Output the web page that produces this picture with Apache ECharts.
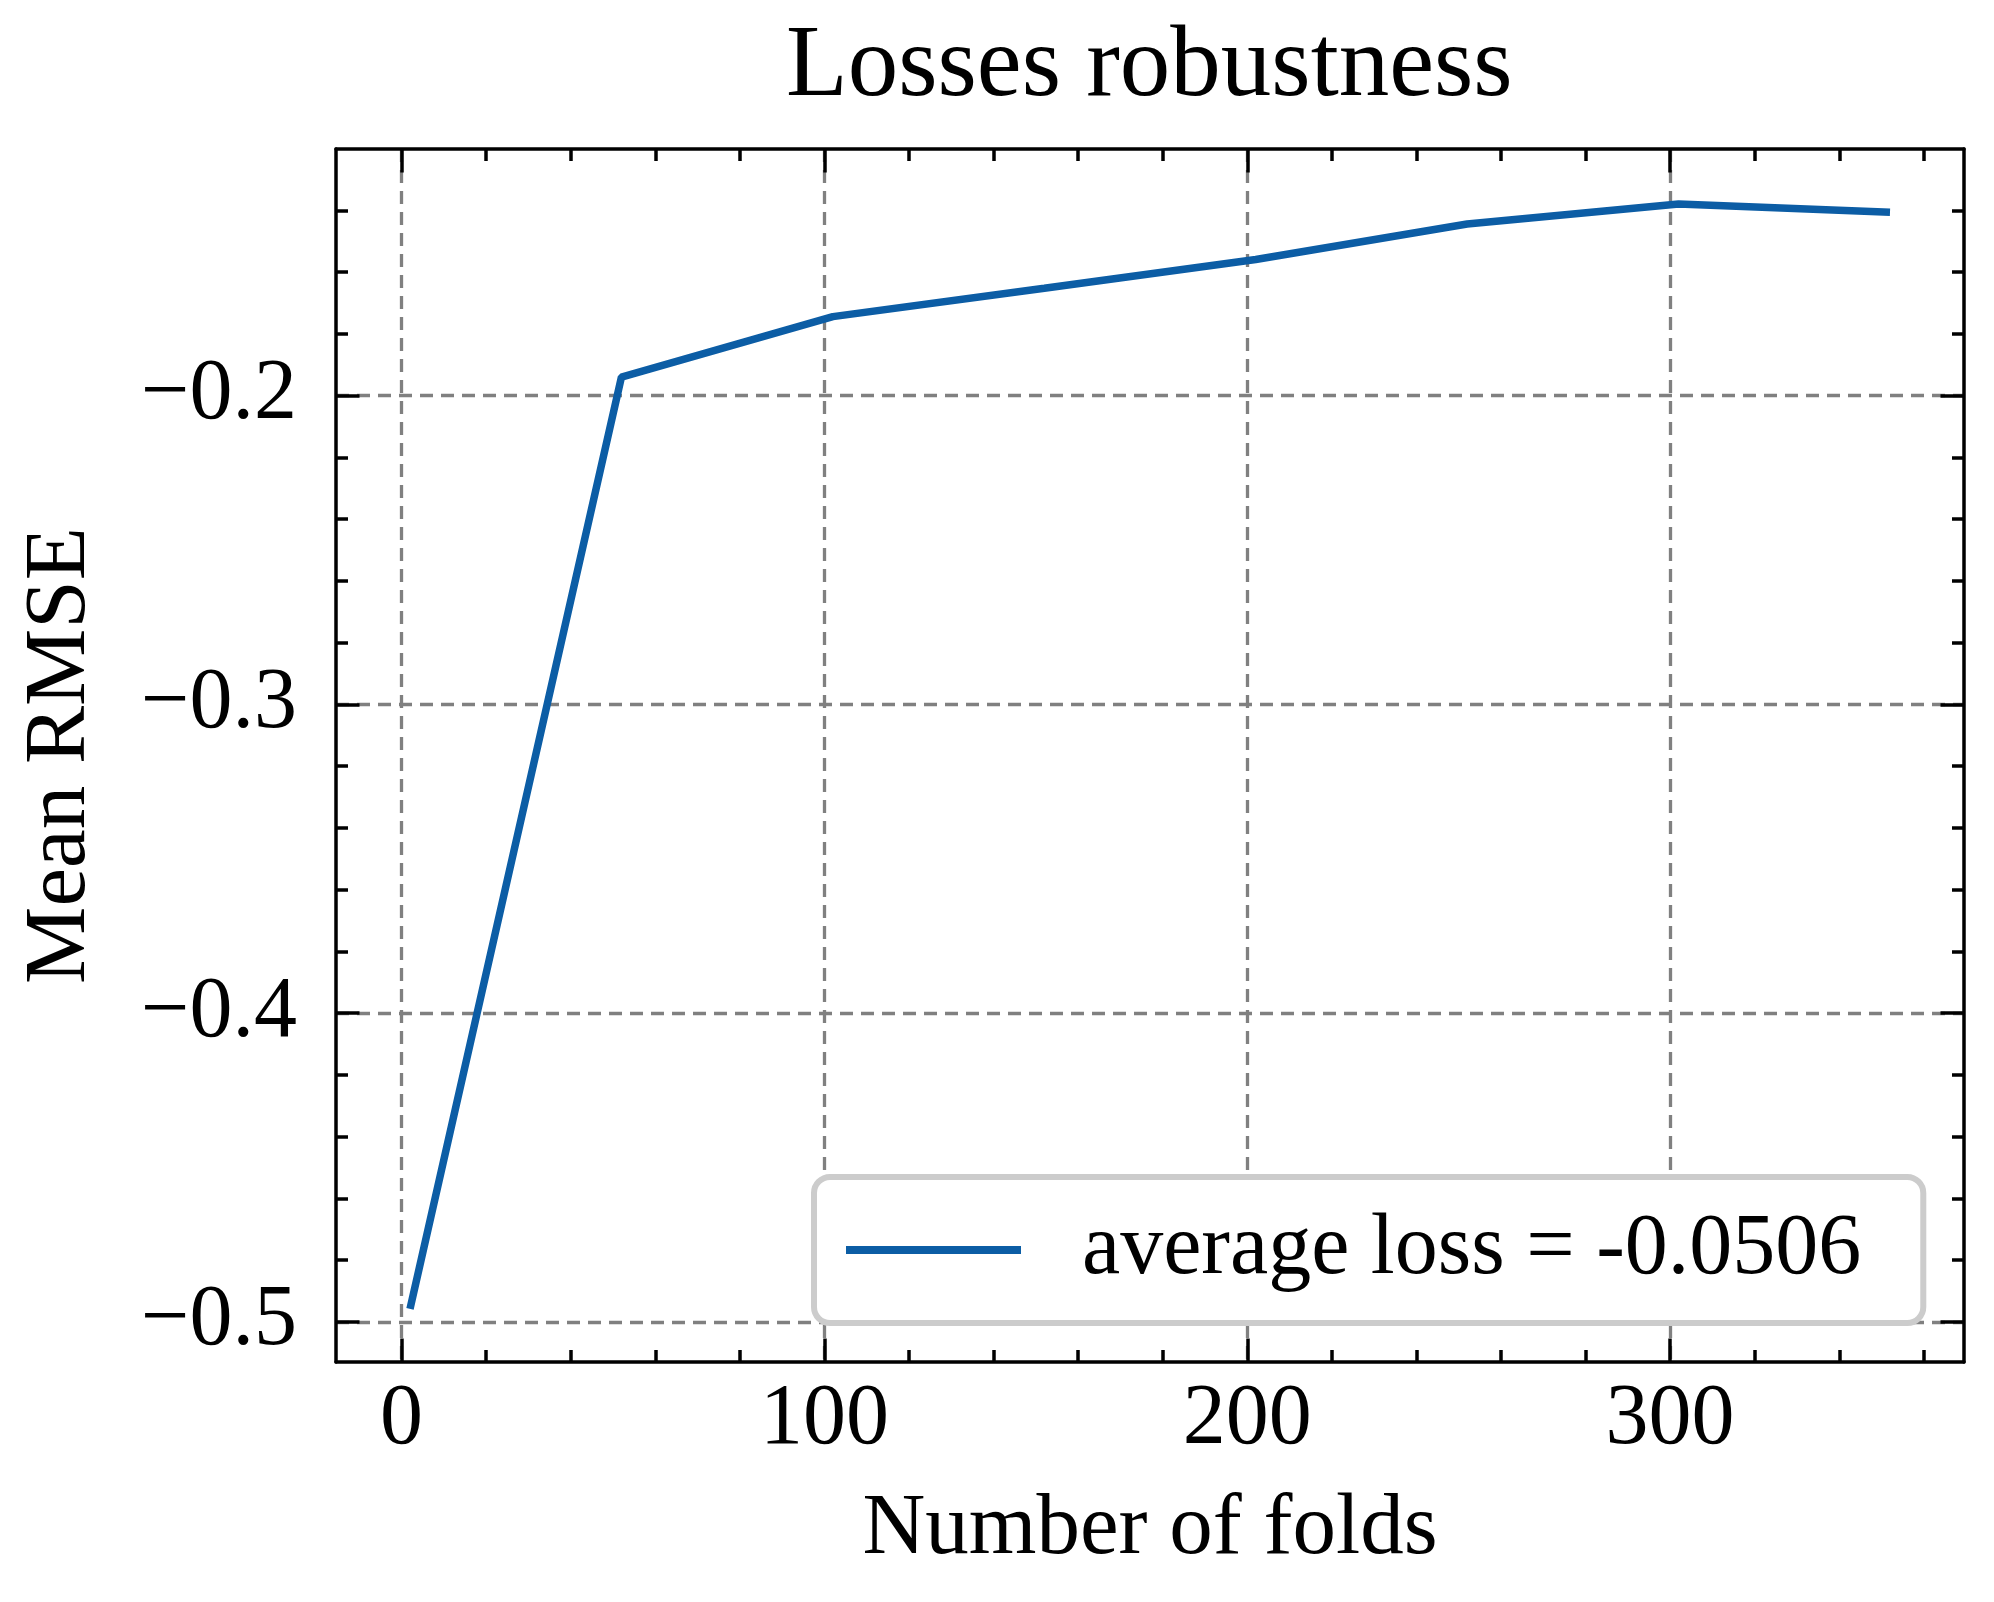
<!DOCTYPE html>
<html lang="en">
<head>
    <meta charset="UTF-8">
    <title>Losses robustness</title>
    <script src="https://cdn.jsdelivr.net/npm/echarts@6/dist/echarts.min.js"></script>
    <style>
        html, body { margin: 0; padding: 0; background: #ffffff; }
        #main { width: 1994px; height: 1602px; }
    </style>
</head>
<body>
<div id="main"></div>
<script type="text/javascript">
    // data
    var folds = [2, 52, 102, 152, 202, 252, 302, 352];
    var meanRmse = [-0.4958, -0.1940, -0.1744, -0.1652, -0.1559, -0.1444, -0.1379, -0.1406];
    var seriesName = 'average loss = -0.0506';

    // tick positions
    var xMajor = [0, 100, 200, 300];
    var xMinor = [20, 40, 60, 80, 120, 140, 160, 180, 220, 240, 260, 280, 320, 340, 360];
    var yMajor = [-0.5, -0.4, -0.3, -0.2];
    var yMinor = [-0.48, -0.46, -0.44, -0.42, -0.38, -0.36, -0.34, -0.32,
                  -0.28, -0.26, -0.24, -0.22, -0.18, -0.16, -0.14];

    var X_MIN = -15.5, X_MAX = 369.5;
    var Y_MIN = -0.513, Y_MAX = -0.1201;

    var FONT = '"Liberation Serif", "DejaVu Serif", serif';
    var LINE_W = 3.5;

    var chart = echarts.init(document.getElementById('main'));

    // helper for the frame/tick-only axes
    function tickAxis(pos, min, max, values, len, withLine) {
        return {
            type: 'value',
            position: pos,
            min: min,
            max: max,
            axisLine: { show: withLine, onZero: false, lineStyle: { color: '#000', width: LINE_W } },
            axisTick: { show: true, inside: true, length: len, customValues: values,
                        lineStyle: { color: '#000', width: LINE_W } },
            axisLabel: { show: false },
            splitLine: { show: false }
        };
    }

    var option = {
        backgroundColor: '#ffffff',
        animation: false,
        textStyle: { fontFamily: FONT },
        title: {
            text: 'Losses robustness',
            left: 786,
            top: 18,
            padding: 0,
            textStyle: { fontFamily: FONT, fontSize: 101, fontWeight: 'normal', color: '#000' }
        },
        legend: {
            data: [seriesName],
            left: 814,
            top: 1177,
            padding: [30, 62, 30, 32],
            backgroundColor: '#ffffff',
            borderColor: '#cccccc',
            borderWidth: 6,
            borderRadius: 16,
            icon: 'rect',
            itemWidth: 175,
            itemHeight: 8,
            textStyle: { fontFamily: FONT, fontSize: 86, color: '#000', padding: [0, 0, 0, 56] }
        },
        grid: { left: 336, right: 30, top: 149, bottom: 240, containLabel: false },
        xAxis: [
            {
                type: 'value',
                position: 'bottom',
                min: X_MIN,
                max: X_MAX,
                name: 'Number of folds',
                nameLocation: 'middle',
                nameGap: 125,
                nameTextStyle: { fontFamily: FONT, fontSize: 87, color: '#000' },
                axisLine: { show: true, onZero: false, lineStyle: { color: '#000', width: LINE_W } },
                axisTick: { show: true, inside: true, length: 23.5, customValues: xMajor,
                            lineStyle: { color: '#000', width: LINE_W } },
                axisLabel: { show: true, customValues: xMajor, margin: 15,
                             fontFamily: FONT, fontSize: 86, color: '#000' },
                splitLine: { show: true, lineStyle: { color: '#808080', width: 3.3, type: [13, 8] } }
            },
            tickAxis('bottom', X_MIN, X_MAX, xMinor, 12, false),
            tickAxis('top', X_MIN, X_MAX, xMajor, 23.5, true),
            tickAxis('top', X_MIN, X_MAX, xMinor, 12, false)
        ],
        yAxis: [
            {
                type: 'value',
                position: 'left',
                min: Y_MIN,
                max: Y_MAX,
                name: 'Mean RMSE',
                nameLocation: 'middle',
                nameGap: 231,
                nameTextStyle: { fontFamily: FONT, fontSize: 87, color: '#000' },
                axisLine: { show: true, onZero: false, lineStyle: { color: '#000', width: LINE_W } },
                axisTick: { show: true, inside: true, length: 23.5, customValues: yMajor,
                            lineStyle: { color: '#000', width: LINE_W } },
                axisLabel: {
                    show: true, customValues: yMajor, margin: 39,
                    fontFamily: FONT, fontSize: 86, color: '#000',
                    formatter: function (v) {
                        return (v < 0 ? '\u2212' : '') + Math.abs(v).toFixed(1);
                    }
                },
                splitLine: { show: true, lineStyle: { color: '#808080', width: 3.3, type: [13, 8] } }
            },
            tickAxis('left', Y_MIN, Y_MAX, yMinor, 12, false),
            tickAxis('right', Y_MIN, Y_MAX, yMajor, 23.5, true),
            tickAxis('right', Y_MIN, Y_MAX, yMinor, 12, false)
        ],
        series: [
            {
                name: seriesName,
                type: 'line',
                xAxisIndex: 0,
                yAxisIndex: 0,
                showSymbol: false,
                lineStyle: { color: '#0C5DA5', width: 7.5 },
                itemStyle: { color: '#0C5DA5' },
                data: folds.map(function (f, i) { return [f, meanRmse[i]]; })
            }
        ]
    };

    chart.setOption(option);
</script>
</body>
</html>
